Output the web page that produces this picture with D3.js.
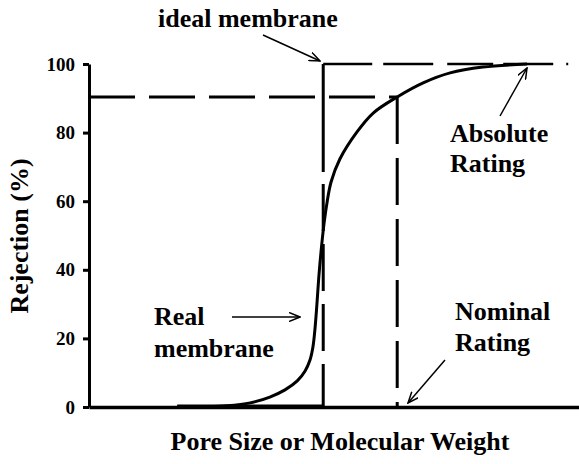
<!DOCTYPE html>
<html>
<head>
<meta charset="utf-8">
<script src="https://cdn.jsdelivr.net/npm/d3@7"></script>
<style>
  html, body { margin: 0; padding: 0; background: #fff; }
  svg { display: block; }
  text { font-family: "Liberation Serif", "Tinos", "Times New Roman", "DejaVu Serif", serif; font-weight: bold; fill: #000; }
</style>
</head>
<body>
<svg id="chart" width="579" height="464"></svg>
<script>
// ---- data ----
const xDomain = [0, 100];
const yTicks = [0, 20, 40, 60, 80, 100];
const realX = [18, 28.2, 32.9, 36.9, 40.0, 42.5, 44.1, 45.1, 45.7, 46.1, 46.5, 46.9, 47.35, 47.95, 48.6, 49.4, 51.2, 54.7, 58.0, 62.9, 68.2, 73.7, 80.4, 89.4];
const realY = [0, 0.4, 1.2, 2.9, 5.0, 7.6, 10.5, 13.7, 17.5, 22.5, 29.7, 37.9, 45.2, 53.3, 59.8, 65.6, 72.3, 80.2, 85.7, 90.4, 94.5, 97.4, 99.1, 100];
const idealCut = 47.8;
const nominalCut = 62.9;
const nominalLevel = 90.4;
const absoluteEnd = 98.5;
const axisTitles = { x: "Pore Size or Molecular Weight", y: "Rejection (%)" };

const svg = d3.select("#chart");
const x = d3.scaleLinear().domain(xDomain).range([89, 579]);
const y = d3.scaleLinear().domain([0, 100]).range([407, 64]);

// markers
svg.append("defs").append("marker")
  .attr("id", "arr").attr("viewBox", "0 0 12 10")
  .attr("refX", 11).attr("refY", 5)
  .attr("markerWidth", 12).attr("markerHeight", 10)
  .attr("markerUnits", "userSpaceOnUse")
  .attr("orient", "auto")
  .append("path").attr("d", "M0,0.5 L11,5 L0,9.5")
  .attr("fill", "none").attr("stroke", "#000").attr("stroke-width", 1.5);

// 90% horizontal dashed line
svg.append("line")
  .attr("x1", x(0)).attr("x2", x(nominalCut))
  .attr("y1", y(nominalLevel)).attr("y2", y(nominalLevel))
  .attr("stroke", "#000").attr("stroke-width", 3).attr("stroke-dasharray", "46,14");

// nominal vertical dashed line
svg.append("line")
  .attr("x1", x(nominalCut)).attr("x2", x(nominalCut))
  .attr("y1", y(nominalLevel)).attr("y2", y(0))
  .attr("stroke", "#000").attr("stroke-width", 3).attr("stroke-dasharray", "47,14");

// ideal membrane vertical
svg.append("line")
  .attr("x1", x(idealCut)).attr("x2", x(idealCut))
  .attr("y1", y(100)).attr("y2", y(0))
  .attr("stroke", "#000").attr("stroke-width", 3).attr("stroke-dasharray", "108,12,47,13,47,13,47,13,47,13");

// ideal membrane top
svg.append("line")
  .attr("x1", x(idealCut)).attr("x2", x(absoluteEnd))
  .attr("y1", y(100)).attr("y2", y(100))
  .attr("stroke", "#000").attr("stroke-width", 2.5).attr("stroke-dasharray", "49,11,50,14,46,10,50,13,2,20");

// ideal membrane bottom (along axis)
svg.append("line")
  .attr("x1", x(18)).attr("x2", x(idealCut))
  .attr("y1", y(0) - 1.5).attr("y2", y(0) - 1.5)
  .attr("stroke", "#000").attr("stroke-width", 2);

// real membrane curve
const pts = realX.map((d, i) => [d, realY[i]]);
svg.append("path")
  .datum(pts)
  .attr("fill", "none").attr("stroke", "#000").attr("stroke-width", 3)
  .attr("d", d3.line().x(d => x(d[0])).y(d => y(d[1])).curve(d3.curveCatmullRom.alpha(0.5)));

// axes
const yAxis = svg.append("g").attr("transform", `translate(${x(0)},0)`)
  .call(d3.axisLeft(y).tickValues(yTicks).tickSize(6).tickSizeOuter(0).tickPadding(8).tickFormat(d3.format("d")));
yAxis.attr("font-family", null);
yAxis.select(".domain").attr("stroke-width", 3);
yAxis.selectAll(".tick line").attr("stroke-width", 3);
yAxis.selectAll("text").style("font-size", "19px");

const xAxis = svg.append("g").attr("transform", `translate(0,${y(0)})`)
  .call(d3.axisBottom(x).tickValues([]).tickSizeOuter(0));
xAxis.select(".domain").attr("stroke-width", 3.5);

// axis titles
svg.append("text").attr("x", 340).attr("y", 450).attr("text-anchor", "middle")
  .style("font-size", "26px").text(axisTitles.x);
svg.append("text").attr("transform", "translate(28,236) rotate(-90)").attr("text-anchor", "middle")
  .style("font-size", "26px").text(axisTitles.y);

// annotations
const ann = svg.append("g").style("font-size", "26px");
ann.append("text").attr("x", 158).attr("y", 27).text("ideal membrane");
ann.append("text").attr("x", 450).attr("y", 142).text("Absolute");
ann.append("text").attr("x", 450).attr("y", 172).text("Rating");
ann.append("text").attr("x", 455).attr("y", 320).text("Nominal");
ann.append("text").attr("x", 455).attr("y", 351).text("Rating");
ann.append("text").attr("x", 154).attr("y", 325).text("Real");
ann.append("text").attr("x", 154).attr("y", 357).text("membrane");

// arrows
const arrows = [
  [263, 35, 320, 61],
  [232, 317, 300, 317],
  [500, 116, 527, 68],
  [445, 360, 408, 403]
];
arrows.forEach(a => {
  svg.append("line").attr("x1", a[0]).attr("y1", a[1]).attr("x2", a[2]).attr("y2", a[3])
    .attr("stroke", "#000").attr("stroke-width", 1.5).attr("marker-end", "url(#arr)");
});
</script>
</body>
</html>
